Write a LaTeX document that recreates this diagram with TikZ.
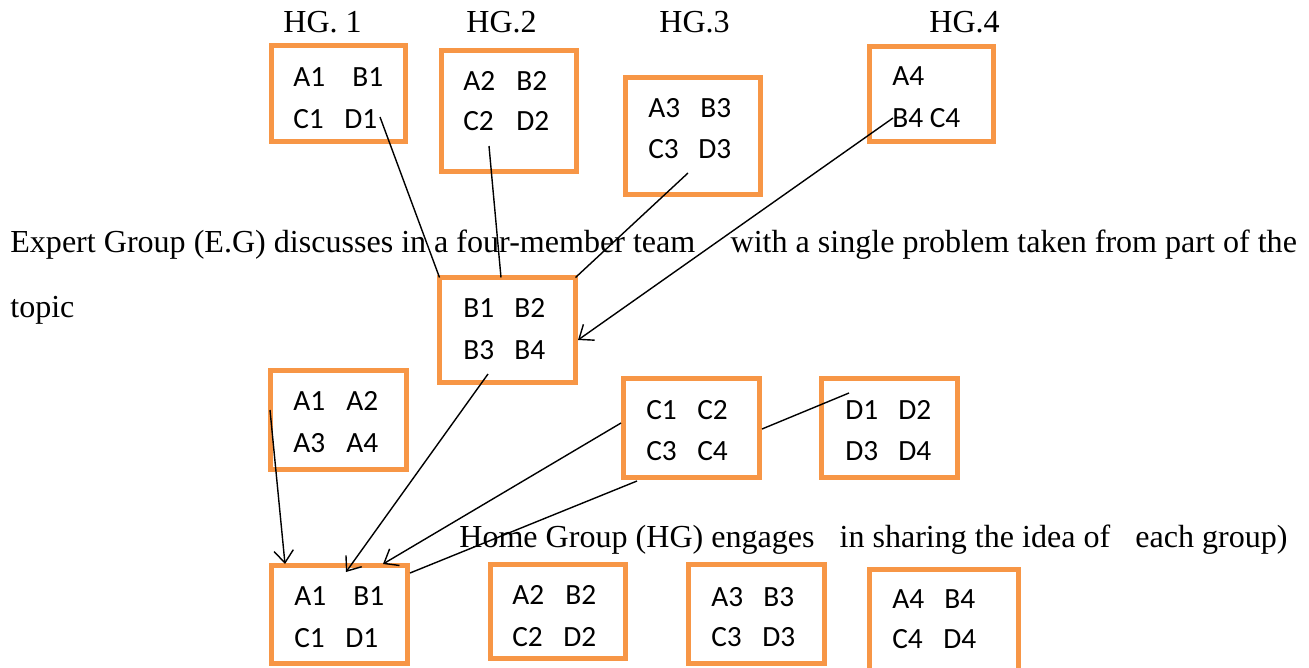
\documentclass[tikz,border=0pt]{standalone}
\usepackage{fontspec}
\setmainfont{Liberation Serif}
\newfontfamily\cellfont{Carlito}
\usetikzlibrary{arrows.meta}
\definecolor{boxorange}{RGB}{247,150,70}

% one orange group frame: name, centre x, centre y, width, height
\newcommand\grpframe[5]{\node[grp, minimum width=#4*0.02cm, minimum height=#5*0.02cm] (#1) at (#2,#3) {};}

\begin{document}
\begin{tikzpicture}[x=0.02cm, y=-0.02cm,
  grp/.style={draw=boxorange, line width=2.83pt, inner sep=0pt, outer sep=0pt, rectangle},
  cell/.style={font=\cellfont\fontsize{16.7}{20}\selectfont, inner sep=0pt, anchor=base west},
  caption/.style={font=\fontsize{18.25}{22}\selectfont, inner sep=0pt, anchor=base west},
  link/.style={line width=0.8pt},
  arrowlink/.style={link, -{Straight Barb[length=7pt, width=11pt, line width=0.8pt]}}]
\useasboundingbox (0,0) rectangle (1309,667);

% home group headings
\node[caption] (hgA) at (283,32) {HG. 1};
\node[caption] (hgB) at (466,32) {HG.2};
\node[caption] (hgC) at (659,32) {HG.3};
\node[caption] (hgD) at (929,32) {HG.4};

% group frames
\grpframe{hg1}{338.5}{93.5}{134}{96}
\grpframe{hg2}{509}{111}{135}{121}
\grpframe{hg3}{693}{136}{135}{117}
\grpframe{hg4}{931.5}{94}{124}{95}
\grpframe{eb}{507.5}{330}{136}{105}
\grpframe{ea}{338.5}{420}{136}{99}
\grpframe{ec}{691.5}{428}{136}{99}
\grpframe{ed}{889.5}{428}{136}{99}
\grpframe{h1}{339.5}{614.5}{136}{98}
\grpframe{h2}{558}{611.5}{135}{94}
\grpframe{h3}{756.5}{614}{136}{99}
\grpframe{h4}{944}{624.5}{149}{110}

% members of the home groups
\node[cell] (a1) at (293,86) {A1};  \node[cell] (b1) at (352,86) {B1};
\node[cell] (c1) at (293,128) {C1}; \node[cell] (d1) at (344,128) {D1};
\node[cell] (a2) at (463,90) {A2};  \node[cell] (b2) at (516,90) {B2};
\node[cell] (c2) at (463,130) {C2}; \node[cell] (d2) at (516,130) {D2};
\node[cell] (a3) at (648,117) {A3}; \node[cell] (b3) at (700,117) {B3};
\node[cell] (c3) at (648,158) {C3}; \node[cell] (d3) at (698,158) {D3};
\node[cell] (a4) at (892,85) {A4};
\node[cell] (b4c4) at (892,127) {B4 C4};

% expert group B
\node[cell] (eb1) at (463,317) {B1}; \node[cell] (eb2) at (514,317) {B2};
\node[cell] (eb3) at (463,359) {B3}; \node[cell] (eb4) at (514,359) {B4};
% expert group A
\node[cell] (ea1) at (293,410) {A1}; \node[cell] (ea2) at (346,410) {A2};
\node[cell] (ea3) at (293,452) {A3}; \node[cell] (ea4) at (346,452) {A4};
% expert group C
\node[cell] (ec1) at (646,419) {C1}; \node[cell] (ec2) at (697,419) {C2};
\node[cell] (ec3) at (646,460) {C3}; \node[cell] (ec4) at (697,460) {C4};
% expert group D
\node[cell] (ed1) at (845,419) {D1}; \node[cell] (ed2) at (898,419) {D2};
\node[cell] (ed3) at (845,460) {D3}; \node[cell] (ed4) at (898,460) {D4};

% home groups back together
\node[cell] (ha1) at (294,605) {A1}; \node[cell] (hb1) at (353,605) {B1};
\node[cell] (hc1) at (294,647) {C1}; \node[cell] (hd1) at (345,647) {D1};
\node[cell] (ha2) at (512,604) {A2}; \node[cell] (hb2) at (565,604) {B2};
\node[cell] (hc2) at (512,646) {C2}; \node[cell] (hd2) at (563,646) {D2};
\node[cell] (ha3) at (711,606) {A3}; \node[cell] (hb3) at (763,606) {B3};
\node[cell] (hc3) at (711,646) {C3}; \node[cell] (hd3) at (762,646) {D3};
\node[cell] (ha4) at (892,608) {A4}; \node[cell] (hb4) at (944,608) {B4};
\node[cell] (hc4) at (892,648) {C4}; \node[cell] (hd4) at (943,648) {D4};

% explanatory sentences
\node[caption] (expert) at (10,252) {Expert Group (E.G) discusses in a four-member team\hspace{1.1em}with a single problem taken from part of the};
\node[caption] (expert2) at (10,317) {topic};
\node[caption] (home) at (459,547) {Home Group (HG) engages\hspace{0.78em}in sharing the idea of\hspace{0.78em}each group)};

% connector end points
\coordinate (l1a) at (380,117);
\coordinate (l2a) at (489,146);
\coordinate (l2b) at (501,277.5);
\coordinate (l3a) at (688,173);
\coordinate (l4a) at (893,118);
\coordinate (l4b) at (578,340);
\coordinate (l5a) at (488,374);
\coordinate (l5b) at (346,572);
\coordinate (l6a) at (270,410);
\coordinate (l6b) at (285,564);
\coordinate (l7a) at (621,423);
\coordinate (l7b) at (383,564);
\coordinate (l8a) at (637,481);
\coordinate (l8b) at (410,573);
\coordinate (l9a) at (762,429);
\coordinate (l9b) at (849,393);

% connectors
\draw[link] (l1a) -- (eb.north west);
\draw[link] (l2a) -- (l2b);
\draw[link] (l3a) -- (eb.north east);
\draw[arrowlink] (l4a) -- (l4b);
\draw[arrowlink] (l5a) -- (l5b);
\draw[arrowlink] (l6a) -- (l6b);
\draw[arrowlink] (l7a) -- (l7b);
\draw[link] (l8a) -- (l8b);
\draw[link] (l9a) -- (l9b);
\end{tikzpicture}
\end{document}
